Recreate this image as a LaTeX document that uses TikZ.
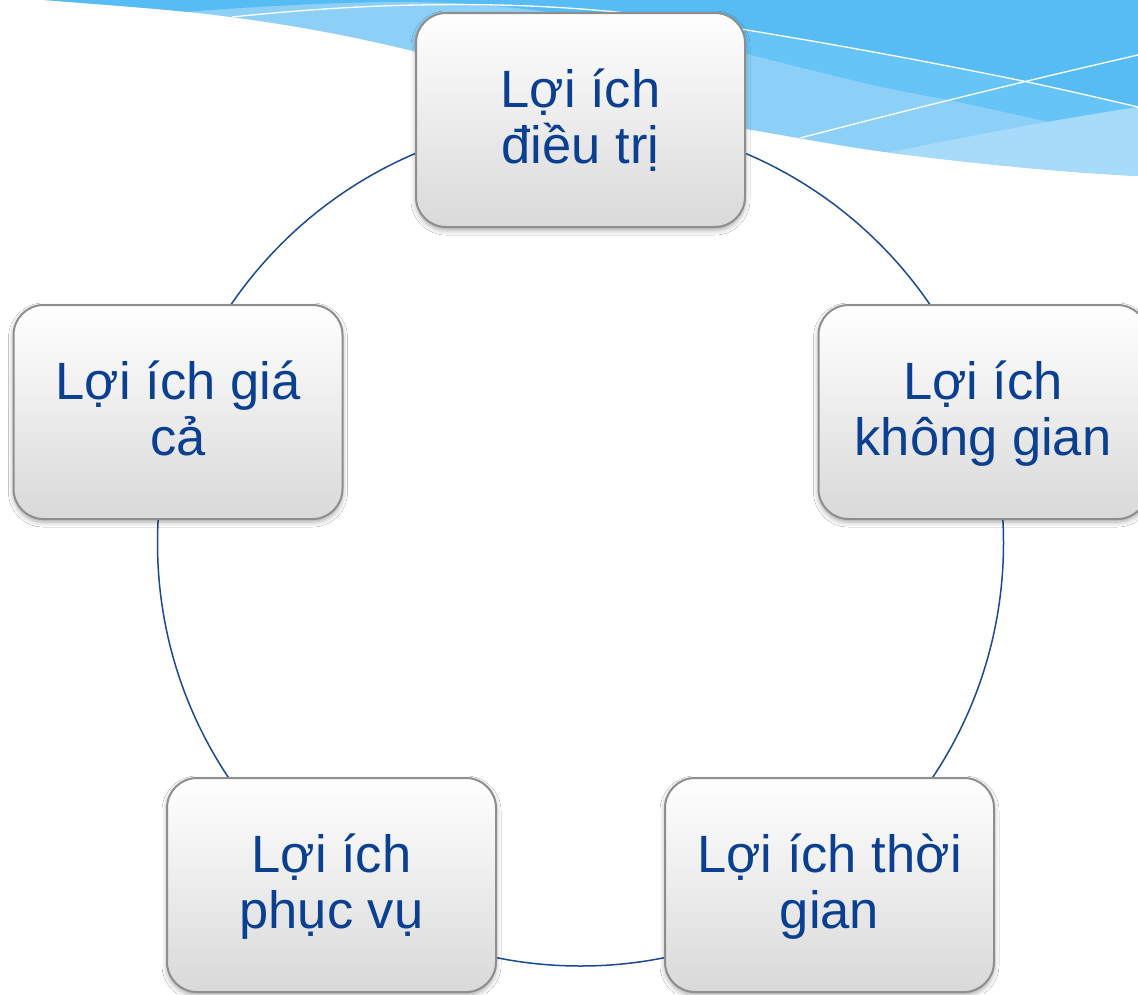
\documentclass[tikz,border=0pt]{standalone}
\usepackage{fontspec}
\setmainfont{Liberation Sans}
\usetikzlibrary{shadows.blur}
\definecolor{wavedark}{HTML}{57BCF4}
\definecolor{wavemid}{HTML}{66C5F6}
\definecolor{wavelight}{HTML}{8DD0F7}
\definecolor{wavelightest}{HTML}{A6DCFA}
\definecolor{boxborder}{HTML}{8E8E8E}
\definecolor{boxbottom}{HTML}{D9D9D9}
\definecolor{txtblue}{HTML}{0B3F8F}
\definecolor{ringblue}{HTML}{1A4A94}
\newcommand{\twolines}[2]{\vrule height 50pt depth 0pt width 0pt#1\\#2\vrule height 0pt depth 20pt width 0pt}
\lineskiplimit=-100pt
\tikzset{
  benefit/.style={rectangle, rounded corners=30pt, draw=boxborder, line width=2pt,
    top color=white, bottom color=boxbottom,
    minimum width=329pt, minimum height=214pt, inner sep=0pt,
    align=center, text=txtblue,
    font={\fontsize{52.5}{56}\selectfont},
    blur shadow={shadow xshift=0pt, shadow yshift=-3pt, shadow blur radius=5pt, shadow opacity=35}},
  ring/.style={draw=ringblue, line width=1.5pt},
  wline/.style={draw=white, line width=1.3pt}
}
\begin{document}
\begin{tikzpicture}[x=1pt,y=-1pt]
\useasboundingbox (0,0) rectangle (1138,994);
\fill[white] (0,0) rectangle (1138,994);
% background wave
\def\wavepath{(44,0) .. controls (120,6) and (180,10) .. (230,17) .. controls (300,26) and (360,38) .. (417,52) .. controls (560,88) and (640,112) .. (740,128) .. controls (800,138) and (850,148) .. (900,154) .. controls (980,164) and (1060,172) .. (1138,176) -- (1138,0) -- cycle}
\fill[wavelight] \wavepath;
\begin{scope}
  \clip \wavepath;
  \fill[wavedark] (0,0) -- (0,40) -- (120,25) .. controls (150,18) and (165,14) .. (185,12)
     .. controls (260,6) and (360,1) .. (420,2) .. controls (560,5) and (650,30) .. (740,52)
     .. controls (820,72) and (880,88) .. (940,98) .. controls (990,108) and (1030,118) .. (1060,124)
     .. controls (1090,130) and (1115,134) .. (1138,138) -- (1138,0) -- cycle;
  \fill[wavemid] (747,30) .. controls (850,47) and (940,64) .. (1023,81)
     .. controls (1065,90) and (1100,98) .. (1138,107) -- (1138,138)
     .. controls (1115,134) and (1090,130) .. (1060,124) .. controls (1030,118) and (990,108) .. (940,98)
     .. controls (880,88) and (820,72) .. (740,52) -- cycle;
  \fill[wavelightest] (700,193) .. controls (850,160) and (1000,128) .. (1138,107) -- (1138,260) -- (700,260) -- cycle;
  \draw[wline] (232,17) .. controls (300,10) and (360,6) .. (417,5) .. controls (560,2) and (660,15) .. (747,30)
     .. controls (850,47) and (940,64) .. (1023,81) .. controls (1065,90) and (1100,98) .. (1138,107);
  \draw[wline] (800,138) .. controls (900,112) and (1020,82) .. (1138,55);
\end{scope}
% ring
\coordinate (ctr) at (580.5,543);
\draw[ring] (ctr) circle[radius=423pt];
% nodes
\node[benefit] (tr) at (580.5,120) {\twolines{Lợi ích}{điều trị}};
\node[benefit] (kg) at (983,412) {\twolines{Lợi ích}{không gian}};
\node[benefit] (tg) at (829.5,885) {\twolines{Lợi ích thời}{gian}};
\node[benefit] (pv) at (331.5,885) {\twolines{Lợi ích}{phục vụ}};
\node[benefit] (gc) at (178,412) {\twolines{Lợi ích giá}{cả}};
\end{tikzpicture}
\end{document}
